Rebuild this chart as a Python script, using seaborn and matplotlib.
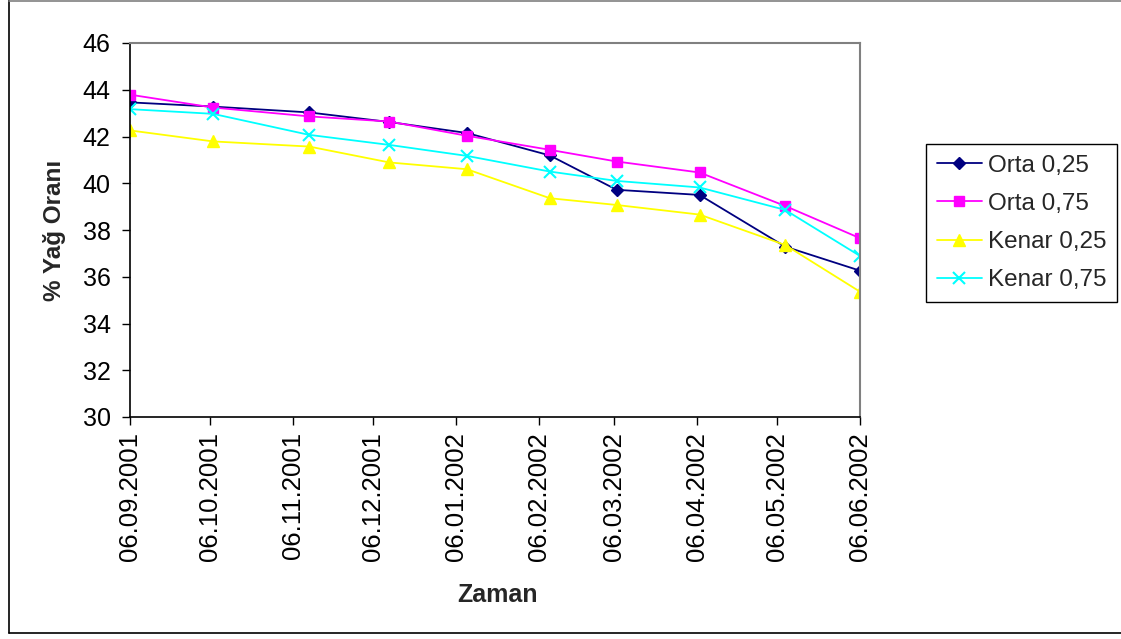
import matplotlib
matplotlib.use("Agg")
import matplotlib.pyplot as plt
import matplotlib.dates as mdates
from matplotlib.lines import Line2D
import seaborn as sns
import pandas as pd
import numpy as np

# ---- data ----
dates = ["2001-09-06", "2001-10-07", "2001-11-12", "2001-12-12", "2002-01-10",
         "2002-02-10", "2002-03-07", "2002-04-07", "2002-05-09", "2002-06-06"]
orta_025 = [43.46, 43.28, 43.03, 42.62, 42.15, 41.19, 39.72, 39.50, 37.29, 36.26]
orta_075 = [43.79, 43.24, 42.86, 42.64, 42.03, 41.43, 40.93, 40.46, 39.03, 37.65]
kenar_025 = [42.26, 41.79, 41.57, 40.89, 40.60, 39.36, 39.07, 38.66, 37.36, 35.36]
kenar_075 = [43.17, 42.97, 42.07, 41.64, 41.17, 40.50, 40.10, 39.82, 38.86, 36.89]
series_names = ["Orta 0,25", "Orta 0,75", "Kenar 0,25", "Kenar 0,75"]
y_ticks = [30, 32, 34, 36, 38, 40, 42, 44, 46]
x_label = "Zaman"
y_label = "% Yağ Oranı"

sns.set_style("white")
plt.rcParams["font.family"] = ["Liberation Sans", "DejaVu Sans"]

df = pd.DataFrame({
    "date": pd.to_datetime(dates),
    series_names[0]: orta_025,
    series_names[1]: orta_075,
    series_names[2]: kenar_025,
    series_names[3]: kenar_075,
})
long = df.melt(id_vars="date", var_name="series", value_name="value")

styles = {
    "Orta 0,25": dict(color="#000080", marker="D", ms=6.5, mew=1),
    "Orta 0,75": dict(color="#FF00FF", marker="s", ms=7, mew=1),
    "Kenar 0,25": dict(color="#FFFF00", marker="^", ms=8.5, mew=1),
    "Kenar 0,75": dict(color="#00FFFF", marker="x", ms=8, mew=1.5),
}

W, H = 1121, 639
fig = plt.figure(figsize=(W / 100, H / 100), dpi=100)
fig.patch.set_facecolor("white")
ax = fig.add_axes([130 / W, 1 - 417 / H, 730 / W, 374 / H])

for name in series_names:
    st = styles[name]
    sub = long[long["series"] == name]
    sns.lineplot(data=sub, x="date", y="value", ax=ax, color=st["color"],
                 marker=st["marker"], markersize=st["ms"], markeredgewidth=st["mew"],
                 markeredgecolor=st["color"], linewidth=1.3, label=name)

ax.set_ylim(30, 46)
ax.set_yticks(y_ticks)
ax.set_xlim(pd.Timestamp("2001-09-06"), pd.Timestamp("2002-06-06"))
ax.xaxis.set_major_locator(mdates.MonthLocator(bymonthday=6))
ax.xaxis.set_major_formatter(mdates.DateFormatter("%d.%m.%Y"))
ax.tick_params(axis="x", rotation=90, labelsize=18.5, length=6, width=1, direction="out",
               bottom=True, pad=5, colors="black")
ax.tick_params(axis="y", labelsize=18, length=6, width=1, direction="out", left=True,
               pad=8, colors="black")

for s in ["left", "bottom"]:
    ax.spines[s].set_color("black")
    ax.spines[s].set_linewidth(1.2)
for s in ["top", "right"]:
    ax.spines[s].set_color("#808080")
    ax.spines[s].set_linewidth(1.5)
    ax.spines[s].set_visible(True)

ax.set_xlabel(x_label, fontsize=18, fontweight="bold")
ax.set_ylabel(y_label, fontsize=17.5, fontweight="bold")
ax.xaxis.set_label_coords((497 - 130) / 730, -(595 - 417) / 374)
ax.yaxis.set_label_coords(-(130 - 55) / 730, 0.5)
ax.xaxis.label.set_va("center")
ax.yaxis.label.set_va("center")

leg = ax.legend(loc="upper left", bbox_to_anchor=(926 / W, 1 - 144 / H),
                bbox_transform=fig.transFigure, fontsize=17.5, frameon=True,
                fancybox=False, edgecolor="black", framealpha=1, borderpad=0.45,
                labelspacing=0.66, handlelength=1.85, handletextpad=0.25,
                borderaxespad=0)
leg.get_frame().set_linewidth(1.0)

# figure border
fig.add_artist(Line2D([8.5 / W, 8.5 / W], [1 - 632.5 / H, 1], color="black", lw=1.2,
                      transform=fig.transFigure))
fig.add_artist(Line2D([8.5 / W, 1], [1 - 632.5 / H, 1 - 632.5 / H], color="black", lw=1.2,
                      transform=fig.transFigure))
fig.add_artist(Line2D([8.5 / W, 1], [1 - 0.5 / H, 1 - 0.5 / H], color="#808080", lw=1.2,
                      transform=fig.transFigure))

fig.savefig("out.png", dpi=100, facecolor="white")
